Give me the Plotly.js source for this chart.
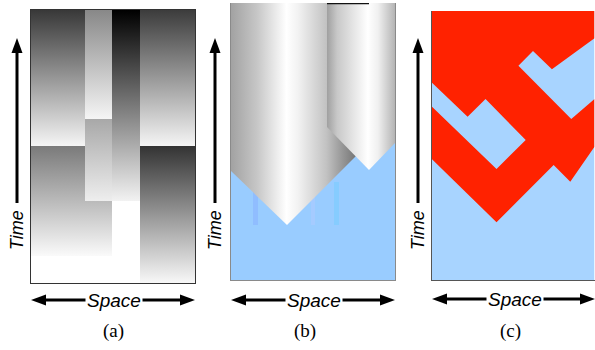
<!DOCTYPE html>
<html><head><meta charset="utf-8">
<script src="https://cdn.plot.ly/plotly-3.0.1.min.js"></script>
<style>html,body{margin:0;padding:0;background:#fff}#chart{width:595px;height:350px}</style>
</head><body><div id="chart"></div>
<script>
// ---------- Panel (a): space-time blocks with vertical gray gradients ----------
const aSpace0 = [109, 0, 81, 54, 54, 0, 109];
const aSpace1 = [164, 81, 109, 81, 81, 54, 164];
const aTime0  = [0, 27, 82, 82, 164, 137, 137];
const aTime1  = [137, 137, 273, 164, 273, 273, 273];
const aGrayTop    = [51, 122, 0, 168, 136, 56, 60];
const aGrayBottom = [248, 250, 242, 238, 245, 245, 245];

// ---------- Panel (b): two pointed cylinders over blue ----------
const bCyl1Space = [0, 129, 129, 56, 0];
const bCyl1Time  = [277, 277, 128, 55, 109];
const bCyl2Space = [96, 164, 164, 138, 96];
const bCyl2Time  = [277, 277, 137, 110, 153];
const bStreakSpace0 = [22, 80, 103];
const bStreakSpace1 = [27, 84, 108];
const bStreakTime0  = [55, 55, 55];
const bStreakTime1  = [90, 85, 98];

// ---------- Panel (c): red region with a blue hole ----------
const cRedSpace = [0, 163, 163, 120.3, 101.3, 86.7, 139.7, 163, 163, 138.7, 122, 64.7, 0];
const cRedTime  = [269, 269, 241.7, 210.7, 229, 214.3, 161, 181, 133.3, 98.3, 115, 57.7, 120.7];
const cHoleSpace = [0, 35.7, 53.7, 94, 64.7, 0];
const cHoleTime  = [197.3, 163.3, 181, 140, 111, 173.3];

const panelLabels = ['(a)', '(b)', '(c)'];
const axisWords = ['Time', 'Space'];

function g(v){ return 'rgb(' + v + ',' + v + ',' + v + ')'; }
function closed(a){ return a.concat([a[0]]); }

const traces = [];
const base = {type:'scatter', mode:'lines', line:{width:0}, fill:'toself', hoverinfo:'skip', showlegend:false};

// Panel a
for (let i = 0; i < aSpace0.length; i++) {
  traces.push(Object.assign({}, base, {
    x: [aSpace0[i], aSpace1[i], aSpace1[i], aSpace0[i], aSpace0[i]],
    y: [aTime0[i], aTime0[i], aTime1[i], aTime1[i], aTime0[i]],
    xaxis:'x', yaxis:'y',
    fillgradient: {type:'vertical', colorscale: [[0, g(aGrayBottom[i])], [1, g(aGrayTop[i])]]}
  }));
}

// Panel b: blue background
traces.push(Object.assign({}, base, {
  x:[0,164,164,0,0], y:[0,0,277,277,0], xaxis:'x2', yaxis:'y2', fillcolor:'#99ccff'
}));
const streakColors = ['rgba(130,160,255,0.35)','rgba(190,200,255,0.35)','rgba(110,205,255,0.45)'];
for (let i = 0; i < bStreakSpace0.length; i++) {
  traces.push(Object.assign({}, base, {
    x:[bStreakSpace0[i], bStreakSpace1[i], bStreakSpace1[i], bStreakSpace0[i], bStreakSpace0[i]],
    y:[bStreakTime0[i], bStreakTime0[i], bStreakTime1[i], bStreakTime1[i], bStreakTime0[i]],
    xaxis:'x2', yaxis:'y2', fillcolor: streakColors[i]
  }));
}
traces.push(Object.assign({}, base, {
  x: closed(bCyl1Space), y: closed(bCyl1Time), xaxis:'x2', yaxis:'y2',
  fillgradient: {type:'horizontal', colorscale:[[0,'#a2a2a2'],[0.2,'#c6c6c6'],[0.43,'#ffffff'],[0.52,'#f2f2f2'],[0.74,'#c2c2c2'],[0.86,'#989898'],[1,'#6c6c6c']]}
}));
traces.push(Object.assign({}, base, {
  x: closed(bCyl2Space), y: closed(bCyl2Time), xaxis:'x2', yaxis:'y2',
  fillgradient: {type:'horizontal', colorscale:[[0,'#a0a0a0'],[0.15,'#c8c8c8'],[0.6,'#ffffff'],[0.75,'#f0f0f0'],[1,'#b4b4b4']]}
}));
traces.push({type:'scatter', mode:'lines', x:[bCyl2Space[0], 138], y:[276.5, 276.5], xaxis:'x2', yaxis:'y2',
  line:{color:'#111', width:1.5}, hoverinfo:'skip', showlegend:false});

// Panel c
traces.push(Object.assign({}, base, {
  x:[0,163,163,0,0], y:[0,0,269,269,0], xaxis:'x3', yaxis:'y3', fillcolor:'#a8d4ff'
}));
traces.push(Object.assign({}, base, {
  x: closed(cRedSpace), y: closed(cRedTime), xaxis:'x3', yaxis:'y3', fillcolor:'#ff2200'
}));
traces.push(Object.assign({}, base, {
  x: closed(cHoleSpace), y: closed(cHoleTime), xaxis:'x3', yaxis:'y3', fillcolor:'#a8d4ff'
}));

const W = 595, H = 350;
function px(x){ return x / W; }
function py(y){ return 1 - y / H; }
function ax(dom, range, lc, mirror, anchor){
  return {domain: dom, range: range, anchor: anchor, showgrid:false, zeroline:false, showticklabels:false,
    ticks:'', showline:true, linecolor: lc, linewidth:1, mirror: mirror, fixedrange:true};
}

const panels = [
  {x0:31, x1:195, timeX:17, spaceY:300, labelX:113},
  {x0:231, x1:395, timeX:215, spaceY:300, labelX:305},
  {x0:432, x1:595, timeX:418, spaceY:299, labelX:511}
];

const shapes = [];
const annotations = [];
panels.forEach(function(p, i){
  // Time arrow (up)
  shapes.push({type:'line', xref:'paper', yref:'paper', x0:px(p.timeX), x1:px(p.timeX), y0:py(203), y1:py(50),
    line:{color:'#000', width:3}});
  shapes.push({type:'path', xref:'paper', yref:'paper',
    path:'M'+px(p.timeX)+','+py(38)+' L'+px(p.timeX-5.5)+','+py(53)+' L'+px(p.timeX+5.5)+','+py(53)+' Z',
    fillcolor:'#000', line:{width:0}});
  // Space arrow (both ways)
  shapes.push({type:'line', xref:'paper', yref:'paper', x0:px(p.x0+12), x1:px(p.x1-12), y0:py(p.spaceY), y1:py(p.spaceY),
    line:{color:'#000', width:3}});
  shapes.push({type:'path', xref:'paper', yref:'paper',
    path:'M'+px(p.x0)+','+py(p.spaceY)+' L'+px(p.x0+15)+','+py(p.spaceY-5.5)+' L'+px(p.x0+15)+','+py(p.spaceY+5.5)+' Z',
    fillcolor:'#000', line:{width:0}});
  shapes.push({type:'path', xref:'paper', yref:'paper',
    path:'M'+px(p.x1)+','+py(p.spaceY)+' L'+px(p.x1-15)+','+py(p.spaceY-5.5)+' L'+px(p.x1-15)+','+py(p.spaceY+5.5)+' Z',
    fillcolor:'#000', line:{width:0}});
  annotations.push({xref:'paper', yref:'paper', x:px(p.timeX), y:py(230), xanchor:'center', yanchor:'middle',
    text:axisWords[0], textangle:-90, showarrow:false, bgcolor:'#fff', borderpad:1,
    font:{family:'Liberation Sans, Arial, sans-serif', size:18, style:'italic', color:'#000'}});
  annotations.push({xref:'paper', yref:'paper', x:px((p.x0+p.x1)/2 + 1), y:py(p.spaceY), xanchor:'center', yanchor:'middle',
    text:axisWords[1], showarrow:false, bgcolor:'#fff', borderpad:1,
    font:{family:'Liberation Sans, Arial, sans-serif', size:19, style:'italic', color:'#000'}});
  annotations.push({xref:'paper', yref:'paper', x:px(p.labelX), y:py(331), xanchor:'center', yanchor:'middle',
    text:panelLabels[i], showarrow:false,
    font:{family:'Liberation Serif, Times New Roman, serif', size:19, color:'#000'}});
});

const layout = {
  width: W, height: H, margin:{l:0,r:0,t:0,b:0}, paper_bgcolor:'#fff', plot_bgcolor:'rgba(0,0,0,0)',
  showlegend:false,
  xaxis: ax([px(31), px(195)], [0,164], '#333', true, 'y'),
  yaxis: ax([py(283), py(10)], [0,273], '#333', true, 'x'),
  xaxis2: ax([px(231), px(395)], [0,164], '#8a8a8a', false, 'y2'),
  yaxis2: ax([py(280), py(3)], [0,277], '#8a8a8a', true, 'x2'),
  xaxis3: ax([px(432), px(594.5)], [0,163], '#555', false, 'y3'),
  yaxis3: ax([py(280), py(11)], [0,269], '#555', false, 'x3'),
  shapes: shapes, annotations: annotations
};
Plotly.newPlot('chart', traces, layout, {displayModeBar:false, staticPlot:true});
</script></body></html>
